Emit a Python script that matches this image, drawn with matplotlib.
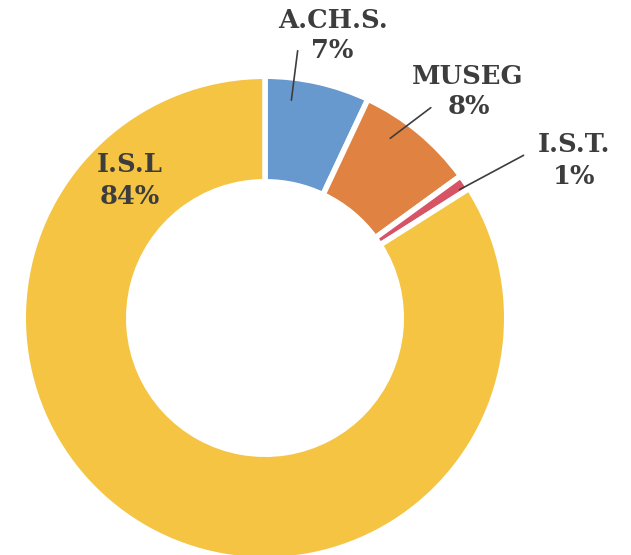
import matplotlib

matplotlib.use("Agg")
import matplotlib.pyplot as plt

# Donnees
labels = ["A.CH.S.", "MUSEG", "I.S.T.", "I.S.L"]
values = [7, 8, 1, 84]
colors = ["#6899CE", "#E08242", "#D65466", "#F5C443"]

# Mise en page (pixels de l'image de reference)
W, H = 631, 555
CX, CY, R = 265, 318, 239
EDGE = 4  # bord blanc (pt)
half = EDGE * 100 / 72 / 2  # demi-bord en pixels


def px(x, y):
    """pixel -> coordonnees de donnees (rayon visible du donut = 1)"""
    return (x - CX) / R, (CY - y) / R


fig = plt.figure(figsize=(W / 100, H / 100), dpi=100)
ax = fig.add_axes([0, 0, 1, 1])
ax.pie(values, colors=colors, startangle=90, counterclock=False,
       radius=(R + half) / R,
       wedgeprops=dict(width=(100 + 2 * half) / R, edgecolor="white",
                       linewidth=EDGE))
ax.set_xlim(-CX / R, (W - CX) / R)
ax.set_ylim(-(H - CY) / R, CY / R)
ax.set_aspect("equal")
ax.axis("off")

txt = dict(ha="center", va="center", fontsize=18.5, fontweight="bold",
           family="DejaVu Serif", color="#3D3D3D")
# (nom, pourcentage) : positions en pixels
label_pos = [((333, 21), (332, 51)), ((468, 76), (469, 107)),
             ((574, 145), (574, 177)), ((130, 165), (130, 197))]
lines = [((298, 48), (291, 103)), ((433, 106), (388, 140)),
         ((526, 154), (457, 191)), None]
for lab, val, (p1, p2), ln in zip(labels, values, label_pos, lines):
    ax.text(*px(*p1), lab, **txt)
    ax.text(*px(*p2), f"{val}%", **txt)
    if ln:
        a, b = ln
        ax.annotate("", xy=px(*b), xytext=px(*a),
                    arrowprops=dict(arrowstyle="-", color="#3D3D3D", lw=1.2))

fig.savefig("out.png", dpi=100)
